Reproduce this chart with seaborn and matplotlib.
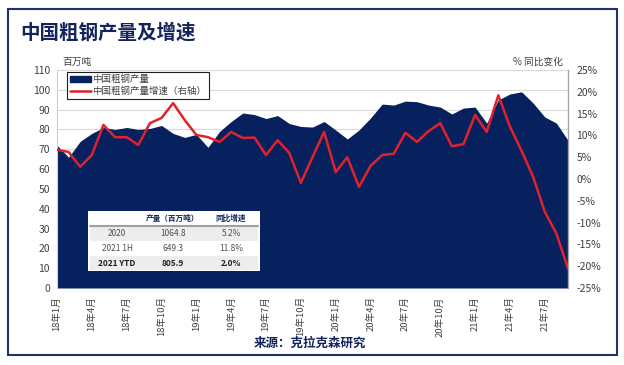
"""China crude steel output (area) and yoy growth (line, right axis)"""
import matplotlib.pyplot as plt
import numpy as np
import pandas as pd
import seaborn as sns
from matplotlib.lines import Line2D
from matplotlib.patches import Patch, Rectangle

# monthly data, 18年1月 .. 21年9月
months = pd.date_range("2018-01-01", "2021-09-01", freq="MS")
output = [72, 66, 74, 78, 81, 80, 81, 80, 80.5, 82,
          78, 76, 77.5, 71, 79, 84, 88.3, 87.5, 85.5, 87,
          83, 81.5, 81.2, 84, 79.7, 75.2, 79.7, 85.8, 92.8, 92.3,
          94.3, 94, 92.3, 91.3, 87.8, 90.8, 91.3, 83.2, 94.9, 97.9,
          99, 93.3, 86.3, 83.2, 74.5]
growth = [6.7, 6.2, 2.8, 5.5, 12.4, 9.6, 9.6, 7.8, 12.8, 14.0,
          17.4, 13.5, 10.1, 9.6, 8.5, 10.8, 9.4, 9.5, 5.5, 8.9,
          6.0, -0.9, 5.0, 10.8, 1.6, 5.0, -1.8, 3.0, 5.5, 5.8,
          10.6, 8.5, 11.0, 12.8, 7.5, 8.0, 14.7, 10.8, 19.2, 12.0,
          6.5, 0.5, -7.5, -12.5, -20.5]

# summary table
table_header = ["", "产量（百万吨）", "同比增速"]
table_period = ["2020", "2021 1H", "2021 YTD"]
table_output = ["1064.8", "649.3", "805.9"]
table_growth = ["5.2%", "11.8%", "2.0%"]

NAVY = "#07215F"
RED = "#E0222C"
GREY = "#404040"

sns.set_theme(style="white")
plt.rcParams["font.family"] = ["Noto Sans CJK SC", "DejaVu Sans"]

W, H = 624, 365


def fx(x):
    return x / W


def fy(y):
    return 1 - y / H


df = pd.DataFrame({"idx": np.arange(len(months)), "output": output, "growth": growth})
labels = [f"{m.year % 100}年{m.month}月" for m in months]

fig = plt.figure(figsize=(W / 100, H / 100), dpi=100)
ax = fig.add_axes([fx(57), fy(288), fx(568) - fx(57), fy(70) - fy(288)])

ax.fill_between(df["idx"], df["output"], color=NAVY, lw=0, zorder=2)
ax.set_xlim(0, len(months) - 1)
ax.set_ylim(0, 110)
ax.set_yticks(range(0, 111, 10))
ax.yaxis.grid(True, color="#D9D9D9", lw=0.8)
ax.set_axisbelow(True)
ax.set_xticks(df["idx"][::3])
ax.set_xticklabels(labels[::3], rotation=90, fontsize=6.8, color=GREY)
ax.tick_params(axis="x", length=0, pad=6)
ax.tick_params(axis="y", length=0, pad=5, labelsize=7.5, labelcolor=GREY)
for s in ["top", "right", "bottom"]:
    ax.spines[s].set_visible(False)
ax.spines["left"].set_color("#D0D0D0")
ax.spines["left"].set_linewidth(0.8)

ax2 = ax.twinx()
sns.lineplot(data=df, x="idx", y="growth", ax=ax2, color=RED, lw=1.8,
             solid_joinstyle="round", solid_capstyle="round")
ax2.set_ylim(-25, 25)
ax2.set_yticks(range(-25, 26, 5))
ax2.set_yticklabels([f"{v}%" for v in range(-25, 26, 5)])
ax2.tick_params(axis="y", length=0, pad=6, labelsize=7.5, labelcolor=GREY)
ax2.set_xlabel("")
ax2.set_ylabel("")
for s in ["top", "left", "bottom"]:
    ax2.spines[s].set_visible(False)
ax2.spines["right"].set_color("#A6A6A6")
ax2.spines["right"].set_linewidth(1.0)

handles = [Patch(facecolor=NAVY, edgecolor=NAVY),
           Line2D([], [], color=RED, lw=1.8)]
leg = ax2.legend(handles, ["中国粗钢产量", "中国粗钢产量增速（右轴）"],
                 loc="upper left", bbox_to_anchor=((67 - 57) / 511, (288 - 72) / 218),
                 fontsize=6.8, frameon=True, fancybox=False, framealpha=1,
                 edgecolor="#202020", borderpad=0.3, labelspacing=0.25,
                 handlelength=2.2, handleheight=0.6, handletextpad=0.2,
                 borderaxespad=0)
leg.get_frame().set_linewidth(0.8)
for t in leg.get_texts():
    t.set_color(GREY)

# axis captions
fig.text(fx(62), fy(62), "百万吨", fontsize=7, color=GREY, va="center")
fig.text(fx(563), fy(62), "% 同比变化", fontsize=7, color=GREY, va="center", ha="right")

# title, source and outer frame
fig.text(fx(20), fy(33), "中国粗钢产量及增速", fontsize=14, weight="bold",
         color="#13235B", va="center")
fig.text(fx(310), fy(343), "来源：克拉克森研究", fontsize=9, weight="bold",
         color="#13235B", va="center", ha="center")
fig.add_artist(Rectangle((fx(8), fy(355)), fx(617) - fx(8), fy(9) - fy(355),
                         transform=fig.transFigure, fill=False,
                         edgecolor="#1F3464", lw=1.5))

# summary table
x0, x1 = 88, 260
fig.add_artist(Rectangle((fx(x0), fy(271)), fx(x1) - fx(x0), fy(211) - fy(271),
                         transform=fig.transFigure, facecolor="white", lw=0, zorder=5))
for ytop, ybot in [(226, 240.5), (255.5, 270)]:
    fig.add_artist(Rectangle((fx(x0 + 2), fy(ybot)), fx(x1 - 2) - fx(x0 + 2), fy(ytop) - fy(ybot),
                             transform=fig.transFigure, facecolor="#EDEDED", lw=0, zorder=6))
fig.add_artist(Line2D([fx(x0 + 2), fx(x1 - 2)], [fy(226), fy(226)],
                      transform=fig.transFigure, color="#A0A0A0", lw=1.5, zorder=7))
col_x = [117, 173, 231]
for cx, txt in zip(col_x, table_header):
    fig.text(fx(cx), fy(218.5), txt, fontsize=5.5, weight="bold", color="#13235B",
             ha="center", va="center", zorder=8)
for i, (p, o, g) in enumerate(zip(table_period, table_output, table_growth)):
    y = 233.5 + 15 * i
    bold = "bold" if i == 2 else "normal"
    col = "#202020" if i == 2 else "#505050"
    for cx, txt in zip(col_x, [p, o, g]):
        fig.text(fx(cx), fy(y), txt, fontsize=6, weight=bold, color=col,
                 ha="center", va="center", zorder=8)

fig.savefig("out.png", dpi=100)
